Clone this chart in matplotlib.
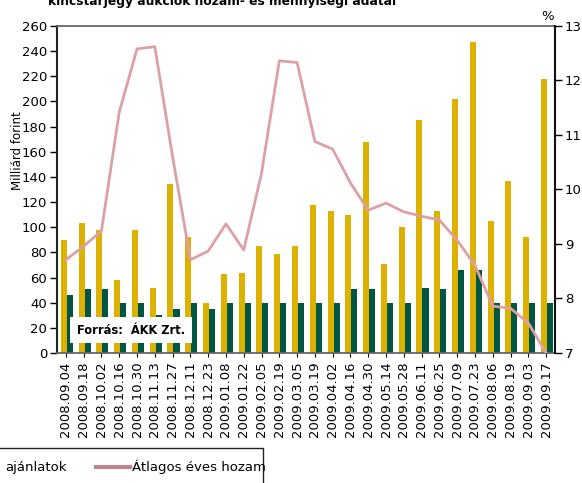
import matplotlib
matplotlib.use("Agg")
import matplotlib.pyplot as plt
from matplotlib import font_manager
from matplotlib.patches import Rectangle
from matplotlib.lines import Line2D
import numpy as np

names = {f.name for f in font_manager.fontManager.ttflist}
FONT = "Liberation Sans Narrow" if "Liberation Sans Narrow" in names else "DejaVu Sans"
plt.rcParams['font.family'] = [FONT, 'DejaVu Sans']

dates = ["2008.09.04", "2008.09.18", "2008.10.02", "2008.10.16", "2008.10.30", "2008.11.13",
         "2008.11.27", "2008.12.11", "2008.12.23", "2009.01.08", "2009.01.22", "2009.02.05",
         "2009.02.19", "2009.03.05", "2009.03.19", "2009.04.02", "2009.04.16", "2009.04.30",
         "2009.05.14", "2009.05.28", "2009.06.11", "2009.06.25", "2009.07.09", "2009.07.23",
         "2009.08.06", "2009.08.19", "2009.09.03", "2009.09.17"]
ajanlatok = [90, 103, 98, 58, 98, 52, 134, 92, 40, 63, 64, 85, 79, 85, 118, 113, 110, 168,
             71, 100, 185, 113, 202, 247, 105, 137, 92, 218]
elfogadott = [46, 51, 51, 40, 40, 30, 35, 40, 35, 40, 40, 40, 40, 40, 40, 40, 51, 51,
              40, 40, 52, 51, 66, 66, 40, 40, 40, 40]
hozam = [8.71, 8.96, 9.24, 11.42, 12.58, 12.62, 10.6, 8.71, 8.87, 9.37, 8.89, 10.30, 12.36,
         12.33, 10.88, 10.74, 10.12, 9.62, 9.75, 9.59, 9.51, 9.44, 9.07, 8.61, 7.86, 7.82,
         7.55, 7.0]

YELLOW = "#ddb100"
GREEN = "#015643"
PINK = "#dda0a6"

fig = plt.figure(figsize=(5.82, 4.83), dpi=100)
ax = fig.add_axes([57/582, 1-353/483, (555-57)/582, (353-26)/483])
x = np.arange(len(dates))
w = 0.34
ax.bar(x - w/2 + 0.05, ajanlatok, width=w, color=YELLOW, zorder=2)
ax.bar(x + w/2 + 0.05, elfogadott, width=w, color=GREEN, zorder=2)
ax.set_xlim(-0.5, len(dates) - 0.5)
ax.set_ylim(0, 260)
ax.set_yticks(np.arange(0, 261, 20))
ax.set_xticks(x)
ax.set_xticklabels(dates, rotation=90, fontsize=9.5)
ax.tick_params(axis='y', labelsize=9.5, length=5, width=1, direction='out', pad=2)
ax.tick_params(axis='x', length=3, width=0.8, pad=3)
ax.set_ylabel("Milliárd forint", fontsize=8.5, labelpad=4)
ax.yaxis.set_label_coords(-0.066, 0.62)
for s in ['top', 'bottom']:
    ax.spines[s].set_color('#666666')
    ax.spines[s].set_linewidth(1.3)
ax.spines['left'].set_color('#222222')
ax.spines['left'].set_linewidth(1.5)
ax.spines['right'].set_visible(False)

ax2 = ax.twinx()
ax2.plot(x, hozam, color=PINK, lw=2, zorder=3)
ax2.set_ylim(7, 13)
ax2.set_yticks(np.arange(7, 14, 1))
ax2.tick_params(axis='y', labelsize=9.5, length=5, width=1, pad=2)
for s in ['top', 'bottom', 'left']:
    ax2.spines[s].set_visible(False)
ax2.spines['right'].set_color('#111111')
ax2.spines['right'].set_linewidth(1.5)

# source box
ax.text(77/582, 1-330/483, "Forrás:  ÁKK Zrt.", transform=fig.transFigure, fontsize=8.3,
        fontweight='bold', va='center', ha='left', zorder=6,
        bbox=dict(facecolor='white', edgecolor='none', pad=5))

# title (cut off at top, as in the source)
fig.text(222/582, 1-5/483, "kincstárjegy aukciók hozam- és mennyiségi adatai", ha='center',
         va='baseline', fontsize=8.8, fontweight='bold')
fig.text(548/582, 1-16/483, "%", ha='center', va='center', fontsize=9.5)

# legend (partially cut off)
fig.patches.append(Rectangle((-0.05, -0.05), 0.05 + 263/582, 0.05 + 1-448/483,
                             transform=fig.transFigure, facecolor='white',
                             edgecolor='#222222', lw=1, clip_on=False))
fig.text(5/582, 1-467/483, "ajánlatok", ha='left', va='center', fontsize=9.5)
fig.lines.append(Line2D([96/582, 130/582], [1-467/483, 1-467/483], transform=fig.transFigure,
                        color="#bb858d", lw=3))
fig.text(132/582, 1-467/483, "Átlagos éves hozam", ha='left', va='center', fontsize=9.5)

fig.savefig("out.png", dpi=100)
